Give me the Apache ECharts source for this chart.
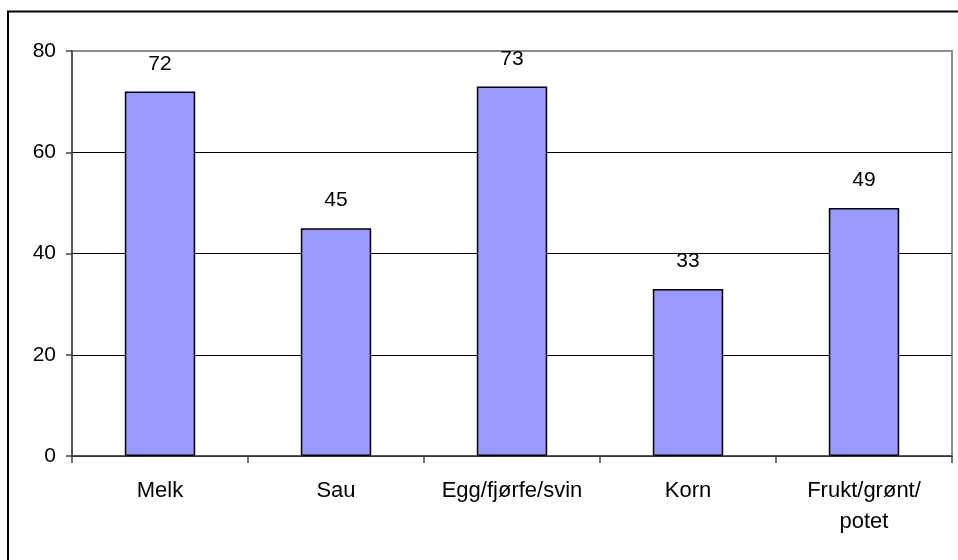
<!DOCTYPE html>
<html>
<head>
<meta charset="utf-8">
<script src="https://cdn.jsdelivr.net/npm/echarts@6/dist/echarts.min.js"></script>
<style>
html,body{margin:0;padding:0;background:#fff;}
#c{width:958px;height:560px;}
</style>
</head>
<body>
<div id="c"></div>
<script>
var categories = ["Melk", "Sau", "Egg/fjørfe/svin", "Korn", "Frukt/grønt/\npotet"];
var values = [72, 45, 73, 33, 49];
var yTicks = [0, 20, 40, 60, 80];

var chart = echarts.init(document.getElementById('c'), null, {renderer: 'canvas'});
var font = '"Liberation Sans", Arial, sans-serif';
chart.setOption({
  animation: false,
  backgroundColor: '#fff',
  graphic: [{
    type: 'rect',
    shape: {x: 8, y: 11.5, width: 980, height: 580},
    style: {fill: 'none', stroke: '#000', lineWidth: 2},
    z: 100
  }],
  grid: {
    left: 72, right: 6, top: 51, bottom: 104,
    show: true, borderColor: '#8c8c8c', borderWidth: 2, backgroundColor: '#fff'
  },
  xAxis: {
    type: 'category',
    data: categories,
    axisLine: {show: true, lineStyle: {color: '#444', width: 1.5}},
    axisTick: {show: true, length: 7, alignWithLabel: false, lineStyle: {color: '#444', width: 1.5}},
    axisLabel: {color: '#000', fontFamily: font, fontSize: 22, lineHeight: 31, margin: 19, interval: 0}
  },
  yAxis: {
    type: 'value',
    min: yTicks[0], max: yTicks[yTicks.length - 1], interval: 20,
    axisLine: {show: true, lineStyle: {color: '#444', width: 1.5}},
    axisTick: {show: true, length: 6, lineStyle: {color: '#444', width: 1.5}},
    axisLabel: {color: '#000', fontFamily: font, fontSize: 21, margin: 16},
    splitLine: {show: true, showMaxLine: false, lineStyle: {color: '#000', width: 1}}
  },
  series: [{
    type: 'bar',
    data: values,
    barWidth: '40%',
    itemStyle: {color: '#9999ff', borderColor: '#000', borderWidth: 1.5},
    label: {show: true, position: 'top', distance: 17, color: '#000', fontFamily: font, fontSize: 21}
  }]
});
</script>
</body>
</html>
